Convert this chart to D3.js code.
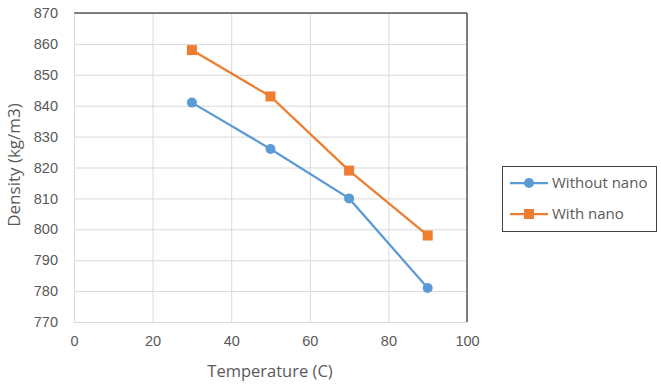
<!DOCTYPE html>
<html>
<head>
<meta charset="utf-8">
<script src="https://cdn.jsdelivr.net/npm/d3@7"></script>
<style>
  body { margin: 0; background: #fff; }
  svg { font-family: "Open Sans", "Noto Sans", sans-serif; }
</style>
</head>
<body>
<div id="chart"></div>
<script>
const width = 661;
const height = 384;

const temperatures = [30, 50, 70, 90];
const withoutNano = [841, 826, 810, 781];
const withNano = [858, 843, 819, 798];
const xTicks = [0, 20, 40, 60, 80, 100];
const yTicks = [770, 780, 790, 800, 810, 820, 830, 840, 850, 860, 870];

const series = [
  { name: "Without nano", values: withoutNano, color: "#5B9BD5", shape: "circle" },
  { name: "With nano", values: withNano, color: "#ED7D31", shape: "square" }
];

const plot = { left: 74, right: 467, top: 13, bottom: 322 };

const x = d3.scaleLinear().domain([0, 100]).range([plot.left, plot.right]);
const y = d3.scaleLinear().domain([770, 870]).range([plot.bottom, plot.top]);

const svg = d3.select("#chart")
  .append("svg")
  .attr("width", width)
  .attr("height", height);

// grid
svg.append("g")
  .attr("transform", "translate(0," + plot.bottom + ")")
  .call(d3.axisBottom(x).tickValues(xTicks).tickSize(-(plot.bottom - plot.top)).tickFormat(""))
  .call(g => g.select(".domain").remove())
  .selectAll("line").attr("stroke", "#D9D9D9");

svg.append("g")
  .attr("transform", "translate(" + plot.left + ",0)")
  .call(d3.axisLeft(y).tickValues(yTicks).tickSize(-(plot.right - plot.left)).tickFormat(""))
  .call(g => g.select(".domain").remove())
  .selectAll("line").attr("stroke", "#D9D9D9");

// plot border: top and right darker
svg.append("line")
  .attr("x1", plot.left).attr("x2", plot.right)
  .attr("y1", plot.top).attr("y2", plot.top)
  .attr("stroke", "#595959").attr("stroke-width", 1.5);
svg.append("line")
  .attr("x1", plot.right).attr("x2", plot.right)
  .attr("y1", plot.top).attr("y2", plot.bottom)
  .attr("stroke", "#595959").attr("stroke-width", 1.5);

// tick labels
svg.append("g")
  .attr("transform", "translate(0," + plot.bottom + ")")
  .call(d3.axisBottom(x).tickValues(xTicks).tickSize(0).tickPadding(14))
  .call(g => g.select(".domain").attr("stroke", "#D9D9D9"))
  .selectAll("text")
  .attr("fill", "#595959")
  .style("font-size", "14.5px");

svg.append("g")
  .attr("transform", "translate(" + plot.left + ",0)")
  .call(d3.axisLeft(y).tickValues(yTicks).tickSize(0).tickPadding(16))
  .call(g => g.select(".domain").attr("stroke", "#D9D9D9"))
  .selectAll("text")
  .attr("fill", "#595959")
  .style("font-size", "14.5px");

// axis titles
svg.append("text")
  .attr("x", 270)
  .attr("y", 377)
  .attr("text-anchor", "middle")
  .attr("fill", "#595959")
  .style("font-size", "16.5px")
  .text("Temperature  (C)");

svg.append("text")
  .attr("transform", "translate(20," + 165 + ") rotate(-90)")
  .attr("text-anchor", "middle")
  .attr("fill", "#595959")
  .style("font-size", "17px")
  .text("Density (kg/m3)");

// lines and markers
const line = d3.line()
  .x(function(d, i) { return x(temperatures[i]); })
  .y(function(d) { return y(d); });

series.forEach(function(s) {
  svg.append("path")
    .datum(s.values)
    .attr("fill", "none")
    .attr("stroke", s.color)
    .attr("stroke-width", 2.25)
    .attr("d", line);

  const pts = svg.append("g").selectAll("g")
    .data(s.values)
    .enter();

  if (s.shape === "circle") {
    pts.append("circle")
      .attr("cx", function(d, i) { return x(temperatures[i]); })
      .attr("cy", function(d) { return y(d); })
      .attr("r", 5)
      .attr("fill", s.color);
  } else {
    pts.append("rect")
      .attr("x", function(d, i) { return x(temperatures[i]) - 5; })
      .attr("y", function(d) { return y(d) - 5; })
      .attr("width", 10)
      .attr("height", 10)
      .attr("fill", s.color);
  }
});

// legend
const legend = svg.append("g");
legend.append("rect")
  .attr("x", 502.5).attr("y", 166.5)
  .attr("width", 154).attr("height", 65)
  .attr("fill", "#fff")
  .attr("stroke", "#404040");

series.forEach(function(s, i) {
  const cy = 183 + i * 31;
  legend.append("line")
    .attr("x1", 510).attr("x2", 548)
    .attr("y1", cy).attr("y2", cy)
    .attr("stroke", s.color).attr("stroke-width", 2.25);
  if (s.shape === "circle") {
    legend.append("circle").attr("cx", 529).attr("cy", cy).attr("r", 5).attr("fill", s.color);
  } else {
    legend.append("rect").attr("x", 524).attr("y", cy - 5).attr("width", 10).attr("height", 10).attr("fill", s.color);
  }
  legend.append("text")
    .attr("x", 552)
    .attr("y", cy)
    .attr("dy", "0.35em")
    .attr("fill", "#595959")
    .style("font-size", "15px")
    .text(s.name);
});
</script>
</body>
</html>
